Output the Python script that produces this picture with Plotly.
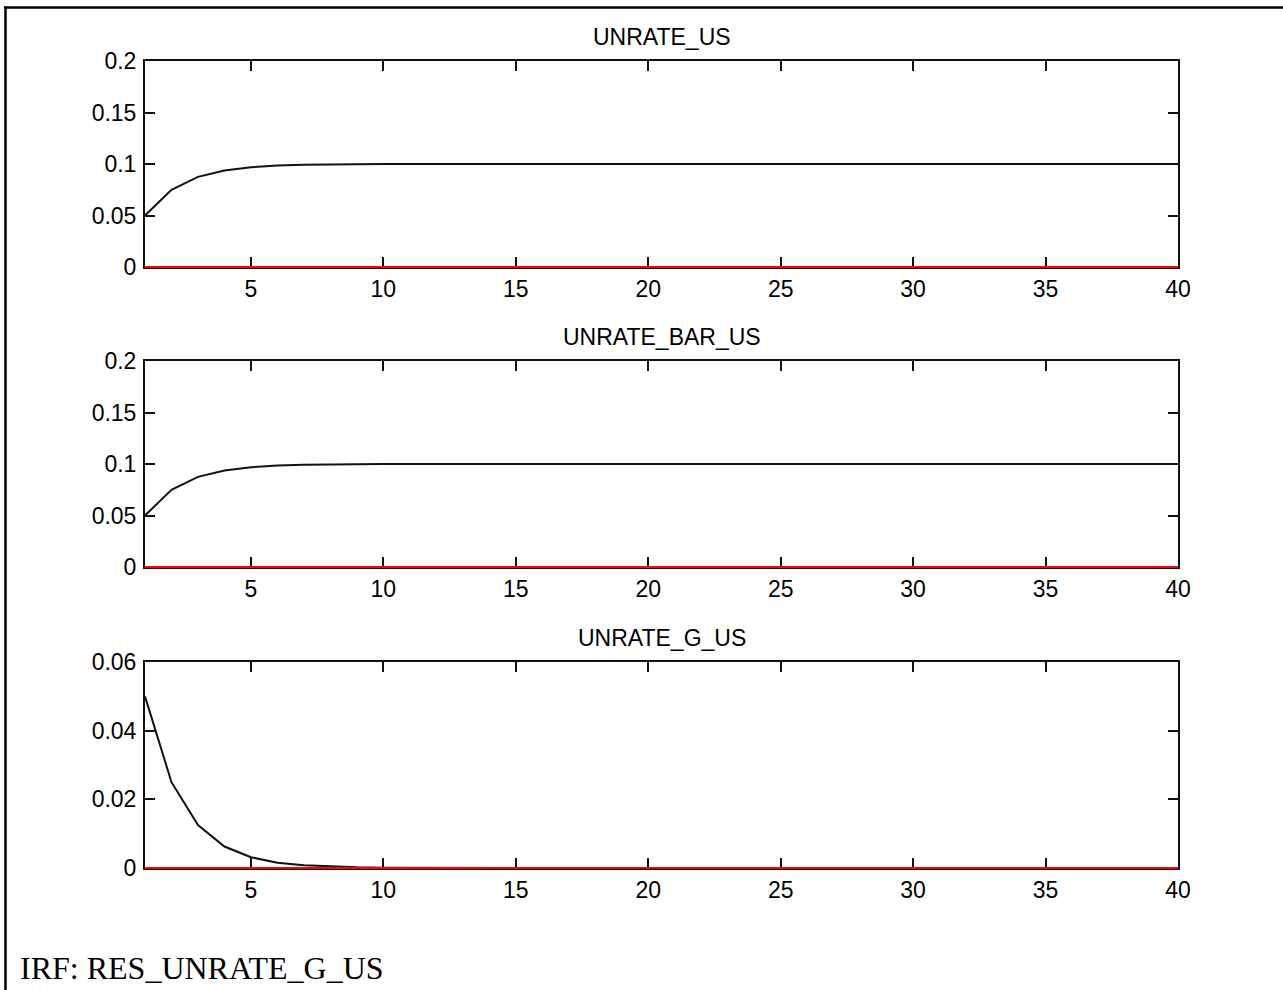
import plotly.graph_objects as go

# Impulse responses to a RES_UNRATE_G_US shock, horizons 1..40
horizon = list(range(1, 41))

unrate_us = [0.05, 0.075, 0.0875, 0.09375, 0.096875, 0.0984375, 0.0992188, 0.0996094,
             0.0998047, 0.0999023, 0.0999512, 0.0999756, 0.0999878, 0.0999939, 0.0999969,
             0.0999985, 0.0999992, 0.0999996, 0.0999998, 0.0999999, 0.1, 0.1, 0.1, 0.1,
             0.1, 0.1, 0.1, 0.1, 0.1, 0.1, 0.1, 0.1, 0.1, 0.1, 0.1, 0.1, 0.1, 0.1, 0.1, 0.1]

unrate_bar_us = [0.05, 0.075, 0.0875, 0.09375, 0.096875, 0.0984375, 0.0992188, 0.0996094,
                 0.0998047, 0.0999023, 0.0999512, 0.0999756, 0.0999878, 0.0999939, 0.0999969,
                 0.0999985, 0.0999992, 0.0999996, 0.0999998, 0.0999999, 0.1, 0.1, 0.1, 0.1,
                 0.1, 0.1, 0.1, 0.1, 0.1, 0.1, 0.1, 0.1, 0.1, 0.1, 0.1, 0.1, 0.1, 0.1, 0.1, 0.1]

unrate_g_us = [0.05, 0.025, 0.0125, 0.00625, 0.003125, 0.0015625, 0.00078125, 0.00039063,
               0.00019531, 0.00009766, 0.00004883, 0.00002441, 0.00001221, 0.0000061,
               0.00000305, 0.00000153, 0.00000076, 0.00000038, 0.00000019, 0.0000001,
               0.0, 0.0, 0.0, 0.0, 0.0, 0.0, 0.0, 0.0, 0.0, 0.0, 0.0, 0.0, 0.0, 0.0, 0.0,
               0.0, 0.0, 0.0, 0.0, 0.0]

panel_titles = ["UNRATE_US", "UNRATE_BAR_US", "UNRATE_G_US"]
panel_series = [unrate_us, unrate_bar_us, unrate_g_us]
y_ticks = [[0, 0.05, 0.1, 0.15, 0.2], [0, 0.05, 0.1, 0.15, 0.2], [0, 0.02, 0.04, 0.06]]
y_ticklabels = [["0", "0.05", "0.1", "0.15", "0.2"], ["0", "0.05", "0.1", "0.15", "0.2"],
                ["0", "0.02", "0.04", "0.06"]]
y_ranges = [[0, 0.2], [0, 0.2], [0, 0.06]]
x_ticks = [5, 10, 15, 20, 25, 30, 35, 40]
caption = "IRF: RES_UNRATE_G_US"

W, H = 1283, 990
px_x = lambda p: p / W
px_y = lambda p: 1 - p / H

x_dom = [px_x(145), px_x(1178)]
# panel (top, bottom) in pixels
panel_px = [(61, 267), (361, 567), (662, 868)]

sans = "Liberation Sans, Arial, Helvetica, sans-serif"
fig = go.Figure()
layout = dict(
    width=W, height=H,
    margin=dict(l=0, r=0, t=0, b=0, pad=0, autoexpand=False),
    paper_bgcolor="white", plot_bgcolor="white",
    showlegend=False,
    font=dict(family=sans, size=23, color="black"),
)
annotations = []
shapes = []
for i, (title, ys) in enumerate(zip(panel_titles, panel_series)):
    n = "" if i == 0 else str(i + 1)
    xa, ya = "x" + n, "y" + n
    fig.add_trace(go.Scatter(x=horizon, y=ys, mode="lines", xaxis=xa, yaxis=ya,
                             line=dict(color="#111111", width=2), hoverinfo="skip"))
    top, bot = panel_px[i]
    axis_common = dict(showline=True, linecolor="#111111", linewidth=2, mirror="ticks",
                       ticks="inside", ticklen=10, tickwidth=2, tickcolor="#111111",
                       showgrid=False, zeroline=False, automargin=False,
                       tickfont=dict(family=sans, size=23))
    layout["xaxis" + n] = dict(axis_common, domain=x_dom, range=[1, 40], tickvals=x_ticks,
                               ticktext=[str(v) for v in x_ticks], anchor=ya)
    layout["yaxis" + n] = dict(axis_common, domain=[px_y(bot), px_y(top)], range=y_ranges[i],
                               tickvals=y_ticks[i], ticktext=y_ticklabels[i], anchor=xa,
                               ticklabelstandoff=2)
    # red zero reference line over the bottom axis
    shapes.append(dict(type="line", xref=xa + " domain", yref=ya + " domain", x0=0, x1=1,
                       y0=0, y1=0, layer="above", line=dict(color="#ff0000", width=2)))
    annotations.append(dict(text=title, xref="paper", yref="paper", x=(x_dom[0] + x_dom[1]) / 2,
                            y=px_y(top - 9), xanchor="center", yanchor="bottom", showarrow=False,
                            font=dict(family=sans, size=23, color="black")))

annotations.append(dict(text=caption, xref="paper", yref="paper", x=px_x(18), y=px_y(988),
                        xanchor="left", yanchor="bottom", showarrow=False,
                        font=dict(family="Liberation Serif, Times New Roman, serif", size=32,
                                  color="black")))
layout["annotations"] = annotations
shapes += [
    dict(type="line", xref="paper", yref="paper", x0=px_x(5.5), x1=px_x(5.5), y0=0, y1=px_y(6.5),
         line=dict(color="black", width=2.5)),
    dict(type="line", xref="paper", yref="paper", x0=px_x(4.3), x1=1, y0=px_y(7.5), y1=px_y(7.5),
         line=dict(color="black", width=2.5)),
]
layout["shapes"] = shapes
fig.update_layout(**layout)
fig.write_html("out.html", config={"displayModeBar": False})
